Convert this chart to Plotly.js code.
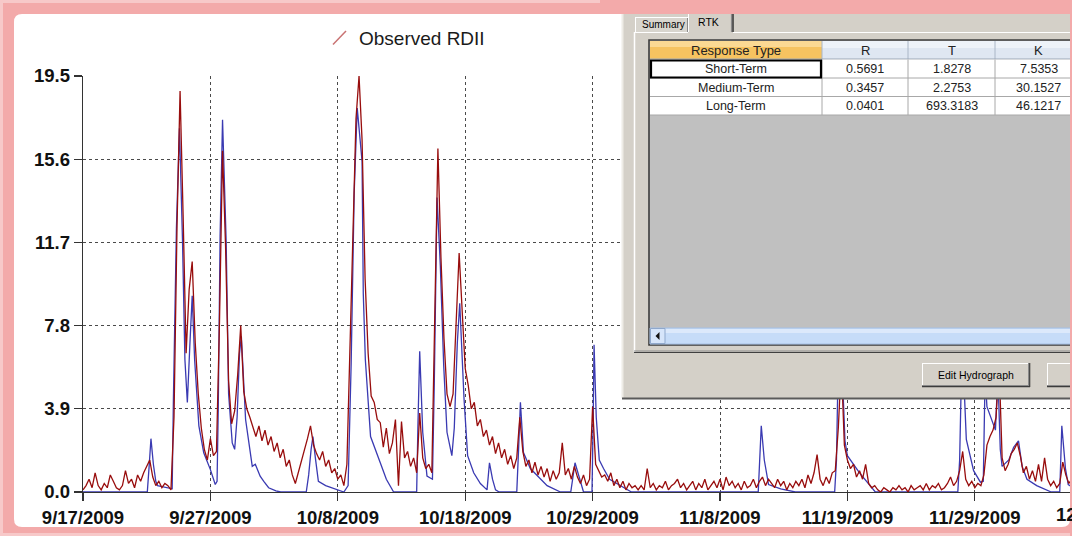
<!DOCTYPE html>
<html><head><meta charset="utf-8">
<script src="https://cdn.plot.ly/plotly-3.0.1.min.js"></script>
<style>html,body{margin:0;padding:0;background:#fff;overflow:hidden}#chart{width:1072px;height:536px}</style>
</head><body><div id="chart"></div>
<script>
// ---------- data ----------
const tickDays = [0, 10.5, 21, 31.5, 42, 52.5, 63, 73.5, 84];
const tickLabels = ['9/17/2009','9/27/2009','10/8/2009','10/18/2009','10/29/2009','11/8/2009','11/19/2009','11/29/2009','12/10/2009'];
const yTickVals = [0, 3.9, 7.8, 11.7, 15.6, 19.5];
const yTickLabels = ['0.0','3.9','7.8','11.7','15.6','19.5'];

// observed RDII, sampled every 6 hours from 9/17/2009 00:00
const obsStartDay = 0;
const obsStepDays = 0.25;
const observedRDII = [
 0.1,0.3,0.6,0.2, 0.9,0.3,0.1,0.4, 0.2,0.8,0.5,0.2, 0.1,0.3,1.0,0.4, 0.6,0.2,0.8,0.5,
 0.9,1.2,1.5,0.7, 0.3,0.5,0.2,0.4, 0.3,0.1,3.5,12.5, 18.8,13.0,6.5,9.5, 10.8,7.0,4.6,3.0,
 2.0,1.5,2.5,1.7, 1.9,8.0,16.0,11.5, 5.2,3.2,3.8,5.5, 7.8,4.7,3.9,3.5, 3.0,2.6,3.1,2.4,
 2.9,2.2,2.6,1.9, 2.3,1.6,2.0,1.2, 1.5,0.8,0.4,0.9, 1.4,1.9,2.5,3.1, 2.2,1.8,1.5,1.9,
 1.2,1.5,0.9,1.1, 0.6,0.8,0.3,1.3, 7.0,13.0,17.5,19.5, 16.5,10.0,6.5,4.5, 4.2,3.4,3.25,2.1,
 3.0,1.8,2.3,3.4, 0.3,3.3,1.6,1.9, 1.2,1.6,0.9,3.7, 1.6,1.1,1.3,0.9, 9.0,16.1,11.0,7.2,
 4.6,4.0,4.6,8.0, 11.2,8.5,5.8,5.0, 3.9,4.2,3.1,3.4, 2.6,2.9,2.2,2.6, 1.8,2.3,1.6,2.0,
 1.3,1.7,1.1,1.6, 3.5,1.9,1.2,1.5, 0.9,1.4,0.8,1.2, 0.7,1.1,0.5,1.0, 0.6,0.9,2.3,0.8,
 1.1,0.6,1.2,0.7, 0.4,0.8,0.3,0.6, 4.0,1.3,1.0,0.7, 0.8,0.5,0.9,0.3, 0.6,0.2,0.5,0.1,
 0.4,0.2,0.3,0.1, 0.3,0.1,1.1,0.2, 0.4,0.1,0.3,0.2, 0.5,0.1,0.3,0.4, 0.6,0.2,0.4,0.1,
 0.3,0.5,0.1,0.4, 0.2,0.6,0.1,0.3, 0.5,0.2,0.6,0.1, 0.7,0.3,0.5,0.2, 0.4,0.1,0.5,0.2,
 0.3,0.6,0.2,0.5, 0.7,0.3,0.6,0.4, 0.2,0.6,0.3,0.5, 0.1,0.4,0.2,0.5, 0.3,0.6,0.2,0.8,
 0.4,0.9,1.75,0.6, 0.3,0.7,0.4,0.9, 1.0,3.0,6.0,2.2, 1.5,1.1,1.3,0.7, 1.0,0.6,1.3,0.4,
 0.2,0.3,0.1,0.0, 0.2,0.1,0.0,0.2, 0.1,0.3,0.1,0.2, 0.0,0.3,0.1,0.2, 0.3,0.1,0.4,0.1,
 0.3,0.2,0.4,0.1, 0.2,0.4,0.7,0.3, 0.5,1.0,1.9,0.6, 0.3,0.5,0.2,0.4, 0.3,0.8,2.2,2.6,
 2.9,3.5,6.0,1.6, 1.0,1.3,1.8,2.0, 2.3,1.7,0.9,1.2, 0.6,1.0,0.5,1.3, 0.5,1.6,0.6,0.3,
 0.5,0.2,0.4,1.4, 0.8,0.4,0.6
];

// simulated RDII (blue)
const simDays = [
 0,5.3,5.45,5.6,5.8,6.0,6.15,6.5,7.0,7.35,7.45,7.7,7.95,8.2,8.4,8.6,8.8,9.0,9.2,9.55,9.95,10.5,10.9,
 11.05,11.15,11.3,11.5,11.8,12.0,12.3,12.5,12.7,12.9,13.05,13.4,13.95,14.2,14.6,14.9,15.3,15.9,16.3,
 18.4,18.6,18.8,18.95,19.15,19.4,20.0,21.0,21.5,21.85,22.1,22.35,22.6,23.0,23.1,23.27,23.7,24.5,25.0,25.6,
 27.5,27.6,27.75,28.0,28.35,28.8,28.95,29.18,29.45,29.73,30.0,30.4,30.6,30.85,31.05,31.4,31.7,32.2,32.75,
 33.3,33.5,33.75,34.0,34.3,35.75,35.9,36.05,36.3,36.87,38.25,39.35,40.2,40.55,41.25,41.95,42.05,42.12,
 42.3,42.55,42.9,43.4,45.2,55.65,55.9,56.15,56.5,57.5,58.7,61.95,62.1,62.3,62.55,62.8,63.0,64.0,65.3,
 72.1,72.25,72.45,72.65,72.8,73.4,73.96,74.2,74.35,74.5,74.8,75.2,75.4,75.6,75.75,76.3,76.7,77.1,77.4,
 77.8,78.6,79.5,79.8,80.5,80.67,80.97,81.2,81.6
];
const simulatedRDII = [
 0,0,1.2,2.5,1.3,0.5,0.3,0.25,0.2,0.15,4.3,12.4,17.05,11.8,6.2,4.2,6.8,9.2,6.2,3.1,1.84,1.05,0.35,
 0.5,4.0,12.0,17.45,11.7,4.6,2.3,2.0,3.5,6.5,7.3,3.4,1.2,1.3,0.74,0.5,0.2,0.05,0,
 0,0.8,2.0,2.6,1.6,0.5,0.3,0.1,0,0.3,6.0,14.0,18.0,15.5,9.3,6.2,2.6,1.37,0.6,0,
 0,3.0,6.6,2.8,0.75,0.6,5.0,13.8,10.6,5.9,2.8,1.7,3.0,7.0,8.85,4.4,1.7,0.9,0.4,
 0.1,1.37,0.6,0.1,0,0,2.0,4.2,1.85,1.1,0.3,0,0,1.37,0,0,3.5,6.9,
 3.5,1.5,1.1,0.6,0,0,3.1,1.5,0.35,0.15,0,0,1.5,8.0,6.0,2.4,1.7,0.9,0,
 0,1.5,7.0,4.5,2.46,1.0,0.46,0.5,5.5,4.0,3.5,2.9,5.5,2.0,1.2,1.5,2.1,2.4,1.2,
 0.6,0.3,0.1,0,0,3.1,1.1,0.35,0.2
];

// RTK parameter table shown in the overlapping dialog
const tableHeaders = ['Response Type', 'R', 'T', 'K'];
const responseTypes = ['Short-Term', 'Medium-Term', 'Long-Term'];
const rValues = ['0.5691', '0.3457', '0.0401'];
const tValues = ['1.8278', '2.2753', '693.3183'];
const kValues = ['7.5353', '30.1527', '46.1217'];
const tabLabels = ['Summary', 'RTK'];
const buttonLabel = 'Edit Hydrograph';
const legendLabel = 'Observed RDII';

// ---------- geometry helpers (pixels -> paper) ----------
const W = 1072, H = 536, ML = 83, MT = 76, MB = 44, MR = 0;
const PW = W - ML - MR, PH = H - MT - MB;
const px = x => (x - ML) / PW;
const py = y => (H - MB - y) / PH;
const X_END = 81.51;

const shapes = [];
const annotations = [];
function rect(x0, y0, x1, y1, fill, line, lw, layer) {
  shapes.push({type:'rect', xref:'paper', yref:'paper', x0:px(x0), x1:px(x1), y0:py(y1), y1:py(y0),
    fillcolor: fill || 'rgba(0,0,0,0)', line:{color: line || 'rgba(0,0,0,0)', width: lw || 0}, layer: layer || 'above'});
}
function seg(x0, y0, x1, y1, color, w, layer) {
  shapes.push({type:'line', xref:'paper', yref:'paper', x0:px(x0), x1:px(x1), y0:py(y0), y1:py(y1),
    line:{color:color, width:w}, layer: layer || 'above'});
}
function path(d, fill, layer) {
  shapes.push({type:'path', xref:'paper', yref:'paper', path:d, fillcolor:fill, line:{width:0}, layer: layer || 'above'});
}
function P(x, y) { return px(x) + ',' + py(y); }
function rrPath(x0, y0, x1, y1, r) {
  return 'M' + P(x0 + r, y0) + ' L' + P(x1 - r, y0) + ' Q' + P(x1, y0) + ' ' + P(x1, y0 + r) +
    ' L' + P(x1, y1 - r) + ' Q' + P(x1, y1) + ' ' + P(x1 - r, y1) + ' L' + P(x0 + r, y1) +
    ' Q' + P(x0, y1) + ' ' + P(x0, y1 - r) + ' L' + P(x0, y0 + r) + ' Q' + P(x0, y0) + ' ' + P(x0 + r, y0) + ' Z';
}
function txt(text, x, y, size, opts) {
  opts = opts || {};
  annotations.push({text:text, xref:'paper', yref:'paper', x:px(x), y:py(y), showarrow:false,
    xanchor: opts.anchor || 'center', yanchor:'middle', borderpad:0,
    font:{family: opts.family || 'Liberation Sans, Arial, sans-serif', size:size, color: opts.color || '#111', weight: opts.weight || 'normal'}});
}

// ---------- frame (pink glow border) ----------
rect(3, 3, 1072, 533, '#f3aaaa', null, 0, 'below');
path(rrPath(14, 14, 1070, 527, 8), '#ffffff', 'below');

// ---------- legend ----------
seg(333, 44.5, 346, 31, '#c97272', 1.5);
txt(legendLabel, 358, 38.5, 19, {anchor:'left', color:'#1a1a1a'});

// ---------- dialog overlay ----------
const dlgBg = '#d4d0c8';
rect(622, 14, 1072, 398, dlgBg);
seg(622.5, 14, 622.5, 398, '#eeece6', 2);
seg(622, 398.5, 1072, 398.5, '#5a5a5a', 2);
// tab page
rect(634, 32, 1072, 352, dlgBg);
seg(634.5, 32, 634.5, 352, '#ffffff', 1.5);
seg(634, 32.5, 689, 32.5, '#ffffff', 1);
seg(733, 32.5, 1072, 32.5, '#ffffff', 1);
seg(634, 351, 1072, 351, '#8a8a8a', 1);
seg(634, 352.5, 1072, 352.5, '#404040', 1.2);
// Summary tab
rect(635, 17, 688, 32, '#d8d5ce');
seg(635.5, 17, 635.5, 32, '#ffffff', 1);
seg(635, 17.5, 688, 17.5, '#ffffff', 1);
seg(687.5, 18, 687.5, 32, '#8a8a8a', 1);
// RTK tab (selected)
rect(688, 14, 733, 33, dlgBg);
seg(688.5, 14, 688.5, 32, '#ffffff', 1);
seg(731.5, 14, 731.5, 32, '#8a8a8a', 1.2);
seg(733, 14, 733, 32, '#3c3c3c', 1.6);
txt(tabLabels[0], 663.5, 24.5, 10, {color:'#000'});
txt(tabLabels[1], 708, 22, 10.5, {color:'#000'});
// grid control
rect(649, 40, 1072, 345, '#c0c0c0', '#3c3c3c', 1.6);
// header
const colX = [650, 822, 908, 995, 1082];
rect(650, 41, 822, 59, '#f6c360');
rect(650, 41, 822, 47, '#fbd993');
for (let c = 1; c < 4; c++) { rect(colX[c], 41, colX[c + 1], 59, '#dfe7f2'); rect(colX[c], 41, colX[c + 1], 48, '#eef3f9'); }
for (let c = 1; c < 4; c++) seg(colX[c], 41, colX[c], 59, '#aab6c6', 1);
seg(650, 59, 1072, 59, '#9aa6b6', 1);
// data rows
rect(650, 59.5, 1072, 115, '#ffffff');
const rowY = [59.5, 78, 96.5, 115];
for (let r = 1; r < 4; r++) seg(650, rowY[r], 1072, rowY[r], '#a8a8a8', 1);
for (let c = 1; c < 4; c++) seg(colX[c], 59.5, colX[c], 115, '#a8a8a8', 1);
rect(651, 60.5, 821, 77.5, null, '#000000', 2.2);
const colC = [736, 865, 951.5, 1038.5];
tableHeaders.forEach((h, c) => txt(h, colC[c], 50.5, 13, {color:'#222'}));
const cols = [responseTypes, rValues, tValues, kValues];
cols.forEach((col, c) => col.forEach((v, r) => txt(v, colC[c], (rowY[r] + rowY[r + 1]) / 2 + 0.5, 12.5, {color:'#222'})));
// horizontal scrollbar
rect(650, 328, 1072, 344, '#c6dcf8', '#a6c0e4', 1);
rect(651, 329, 1072, 333, '#dce9fb');
rect(650.5, 328.5, 665, 343.5, '#d6e5fa', '#8fa8cc', 1);
path('M' + P(655.5, 336) + ' L' + P(659.5, 332) + ' L' + P(659.5, 340) + ' Z', '#111111');
// buttons
function button(x0, y0, x1, y1) {
  rect(x0, y0, x1, y1, dlgBg);
  seg(x0, y0 + 0.5, x1, y0 + 0.5, '#ffffff', 1);
  seg(x0 + 0.5, y0, x0 + 0.5, y1, '#ffffff', 1);
  seg(x0, y1 - 1.5, x1, y1 - 1.5, '#8a8a8a', 1);
  seg(x1 - 1.5, y0, x1 - 1.5, y1, '#8a8a8a', 1);
  seg(x0, y1 - 0.3, x1, y1 - 0.3, '#3c3c3c', 1.2);
  seg(x1 - 0.3, y0, x1 - 0.3, y1, '#3c3c3c', 1.2);
}
button(922, 363, 1030, 387);
button(1047, 363, 1090, 387);
txt(buttonLabel, 976, 374.5, 10.5, {color:'#000'});

// right pink edge over the dialog
rect(1070, 0, 1072, 536, '#f3aaaa');
rect(600, 0, 1072, 14, '#f3aaaa');

// cut-off last date label at the right edge
txt(tickLabels[tickLabels.length - 1], ML + PW * (tickDays[tickDays.length - 1] / X_END), 514, 18.5, {weight:'bold', color:'#111'});

// ---------- traces ----------
const obsDays = observedRDII.map((_, i) => obsStartDay + i * obsStepDays);
const traces = [
  {x: simDays, y: simulatedRDII, type:'scatter', mode:'lines', name:'Simulated RDII',
   line:{color:'#3a3ab2', width:1.3}, showlegend:false},
  {x: obsDays, y: observedRDII, type:'scatter', mode:'lines', name:legendLabel,
   line:{color:'#980d0d', width:1.3}, showlegend:false}
];

const tickFont = {family:'Liberation Sans, Arial, sans-serif', size:18.5, color:'#111', weight:'bold'};
const layout = {
  width: W, height: H,
  margin: {l: ML, r: MR, t: MT, b: MB, pad: 0},
  paper_bgcolor: '#f7c9c9', plot_bgcolor: 'rgba(0,0,0,0)',
  showlegend: false,
  xaxis: {range: [0, X_END], tickmode:'array', tickvals: tickDays, ticktext: tickLabels,
    showgrid: true, gridcolor: '#4a4a4a', griddash: 'dot', gridwidth: 1,
    ticks: 'outside', ticklen: 8, tickcolor: '#333', tickwidth: 1.2,
    showline: true, linecolor: '#333', linewidth: 1.3, zeroline: false,
    tickfont: tickFont, fixedrange: true},
  yaxis: {range: [0, 19.5], tickmode:'array', tickvals: yTickVals, ticktext: yTickLabels,
    showgrid: true, gridcolor: '#4a4a4a', griddash: 'dot', gridwidth: 1,
    ticks: 'outside', ticklen: 8, tickcolor: '#333', tickwidth: 1.2,
    showline: true, linecolor: '#333', linewidth: 1.3, zeroline: false,
    tickfont: tickFont, fixedrange: true},
  shapes: shapes,
  annotations: annotations
};
Plotly.newPlot('chart', traces, layout, {staticPlot: true, displayModeBar: false});
</script>
</body></html>
